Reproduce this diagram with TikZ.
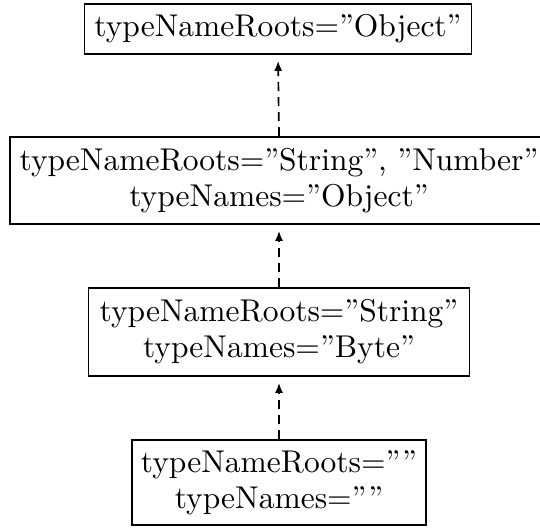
\documentclass[tikz,border=0pt]{standalone}
\usepackage{fontspec}
\newfontfamily\tenfont{lmroman10-regular.otf}
\usetikzlibrary{arrows.meta}
\begin{document}
\begin{tikzpicture}[x=1pt,y=1pt,
  box/.style={draw, line width=1.7pt, align=center, inner sep=0pt,
    font=\tenfont\fontsize{31.5}{36}\selectfont},
  dep/.style={line width=1.7pt, dash pattern=on 9pt off 6pt,
    -{Latex[length=10pt,width=8pt]}, shorten >=6pt}]
\useasboundingbox (0,0) rectangle (540,-527);
\node[box, minimum width=387pt, minimum height=50pt] (b1) at (278,-29) {typeNameRoots=”Object”};
\node[box, minimum width=538pt, minimum height=87pt] (b2) at (279,-180.5) {typeNameRoots=”String”, ”Number”\\typeNames=”Object”};
\node[box, minimum width=381pt, minimum height=88pt] (b3) at (279,-332) {typeNameRoots=”String”\\typeNames=”Byte”};
\node[box, minimum width=294pt, minimum height=85pt] (b4) at (279,-482.5) {typeNameRoots=””\\typeNames=””};
\draw[dep] (b4.north) -- (b3.south);
\draw[dep] (b3.north) -- (b2.south);
\draw[dep] (b2.north) -- (b1.south);
\end{tikzpicture}
\end{document}
